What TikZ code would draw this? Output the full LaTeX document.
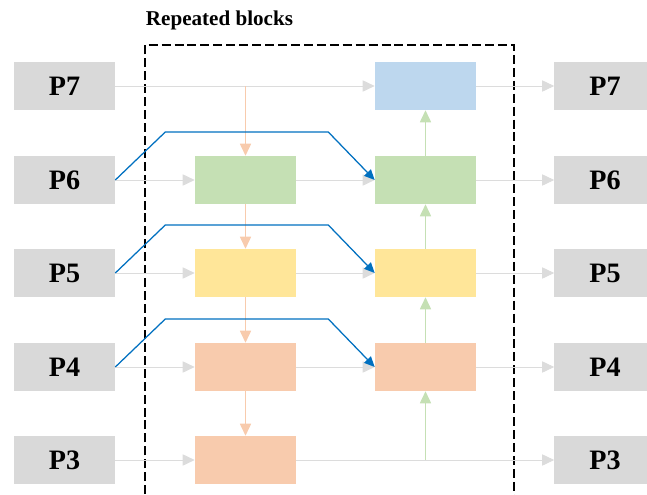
\documentclass[tikz,border=0pt]{standalone}
\usepackage{fontspec}
\setmainfont{Liberation Serif}
\usetikzlibrary{arrows.meta,positioning,calc}

\definecolor{portgray}{HTML}{D9D9D9}
\definecolor{linegray}{HTML}{DCDCDC}
\definecolor{blkgreen}{HTML}{C5E0B4}
\definecolor{blkyellow}{HTML}{FFE699}
\definecolor{blkorange}{HTML}{F8CBAD}
\definecolor{blkblue}{HTML}{BDD7EE}
\definecolor{skipblue}{HTML}{0070C0}

\begin{document}
\begin{tikzpicture}[x=0.025cm, y=-0.025cm,
    font=\bfseries\fontsize{20}{24}\selectfont,
    port/.style={fill=portgray, minimum width=2.525cm, minimum height=1.2cm, inner sep=0pt},
    blk/.style={minimum width=2.525cm, minimum height=1.2cm, inner sep=0pt},
    flow/.style={draw=linegray, line width=0.7pt, -{Triangle[length=3mm,width=2.8mm]}},
    down/.style={draw=blkorange, line width=0.7pt, -{Triangle[length=3mm,width=2.8mm]}},
    up/.style={draw=blkgreen, line width=0.7pt, -{Triangle[length=3mm,width=2.8mm]}},
    skip/.style={draw=skipblue, line width=0.9pt, -{Triangle[length=2.6mm,width=2.3mm]}}]
    \useasboundingbox (0,0) rectangle (647,495);
    % title and the dashed frame round the repeated part
    \node[anchor=west, font=\bfseries\fontsize{15}{18}\selectfont] (title) at (141,20) {Repeated blocks};
    \draw[dash pattern=on 6.4pt off 2.8pt, line width=0.9pt] (145,520) -- (145,45) -- (514,45) -- (514,520);
    % ports on both sides
    \foreach \n/\y in {7/86, 6/180, 5/273, 4/367, 3/460} {
      \node[port] (in\n) at (64.5,\y) {P\n};
      \node[port] (out\n) at (605,\y) {P\n};
    }
    % first column
    \node[blk, fill=blkgreen] (a6) at (245.5,180) {};
    \node[blk, fill=blkyellow] (a5) at (245.5,273) {};
    \node[blk, fill=blkorange] (a4) at (245.5,367) {};
    \node[blk, fill=blkorange] (a3) at (245.5,460) {};
    % second column
    \node[blk, fill=blkblue] (b7) at (425.5,86) {};
    \node[blk, fill=blkgreen] (b6) at (425.5,180) {};
    \node[blk, fill=blkyellow] (b5) at (425.5,273) {};
    \node[blk, fill=blkorange] (b4) at (425.5,367) {};
    \coordinate (j7) at (a6 |- in7);
    \coordinate (j3) at (b4 |- a3);
    % horizontal flow
    \draw[flow] (in7) -- (b7);
    \draw[flow] (b7) -- (out7);
    \foreach \n in {6,5,4} {
      \draw[flow] (in\n) -- (a\n);
      \draw[flow] (a\n) -- (b\n);
      \draw[flow] (b\n) -- (out\n);
    }
    \draw[flow] (in3) -- (a3);
    \draw[flow] (a3) -- (out3);
    % down the first column, up the second
    \draw[down] (j7) -- (a6);
    \draw[down] (a6) -- (a5);
    \draw[down] (a5) -- (a4);
    \draw[down] (a4) -- (a3);
    \draw[up] (j3) -- (b4);
    \draw[up] (b4) -- (b5);
    \draw[up] (b5) -- (b6);
    \draw[up] (b6) -- (b7);
    % skip connections
    \foreach \n in {6,5,4}
      \draw[skip] (in\n.east) -- ++(50,-48) -- ++(163,0) -- (b\n.west);
  \end{tikzpicture}
\end{document}
